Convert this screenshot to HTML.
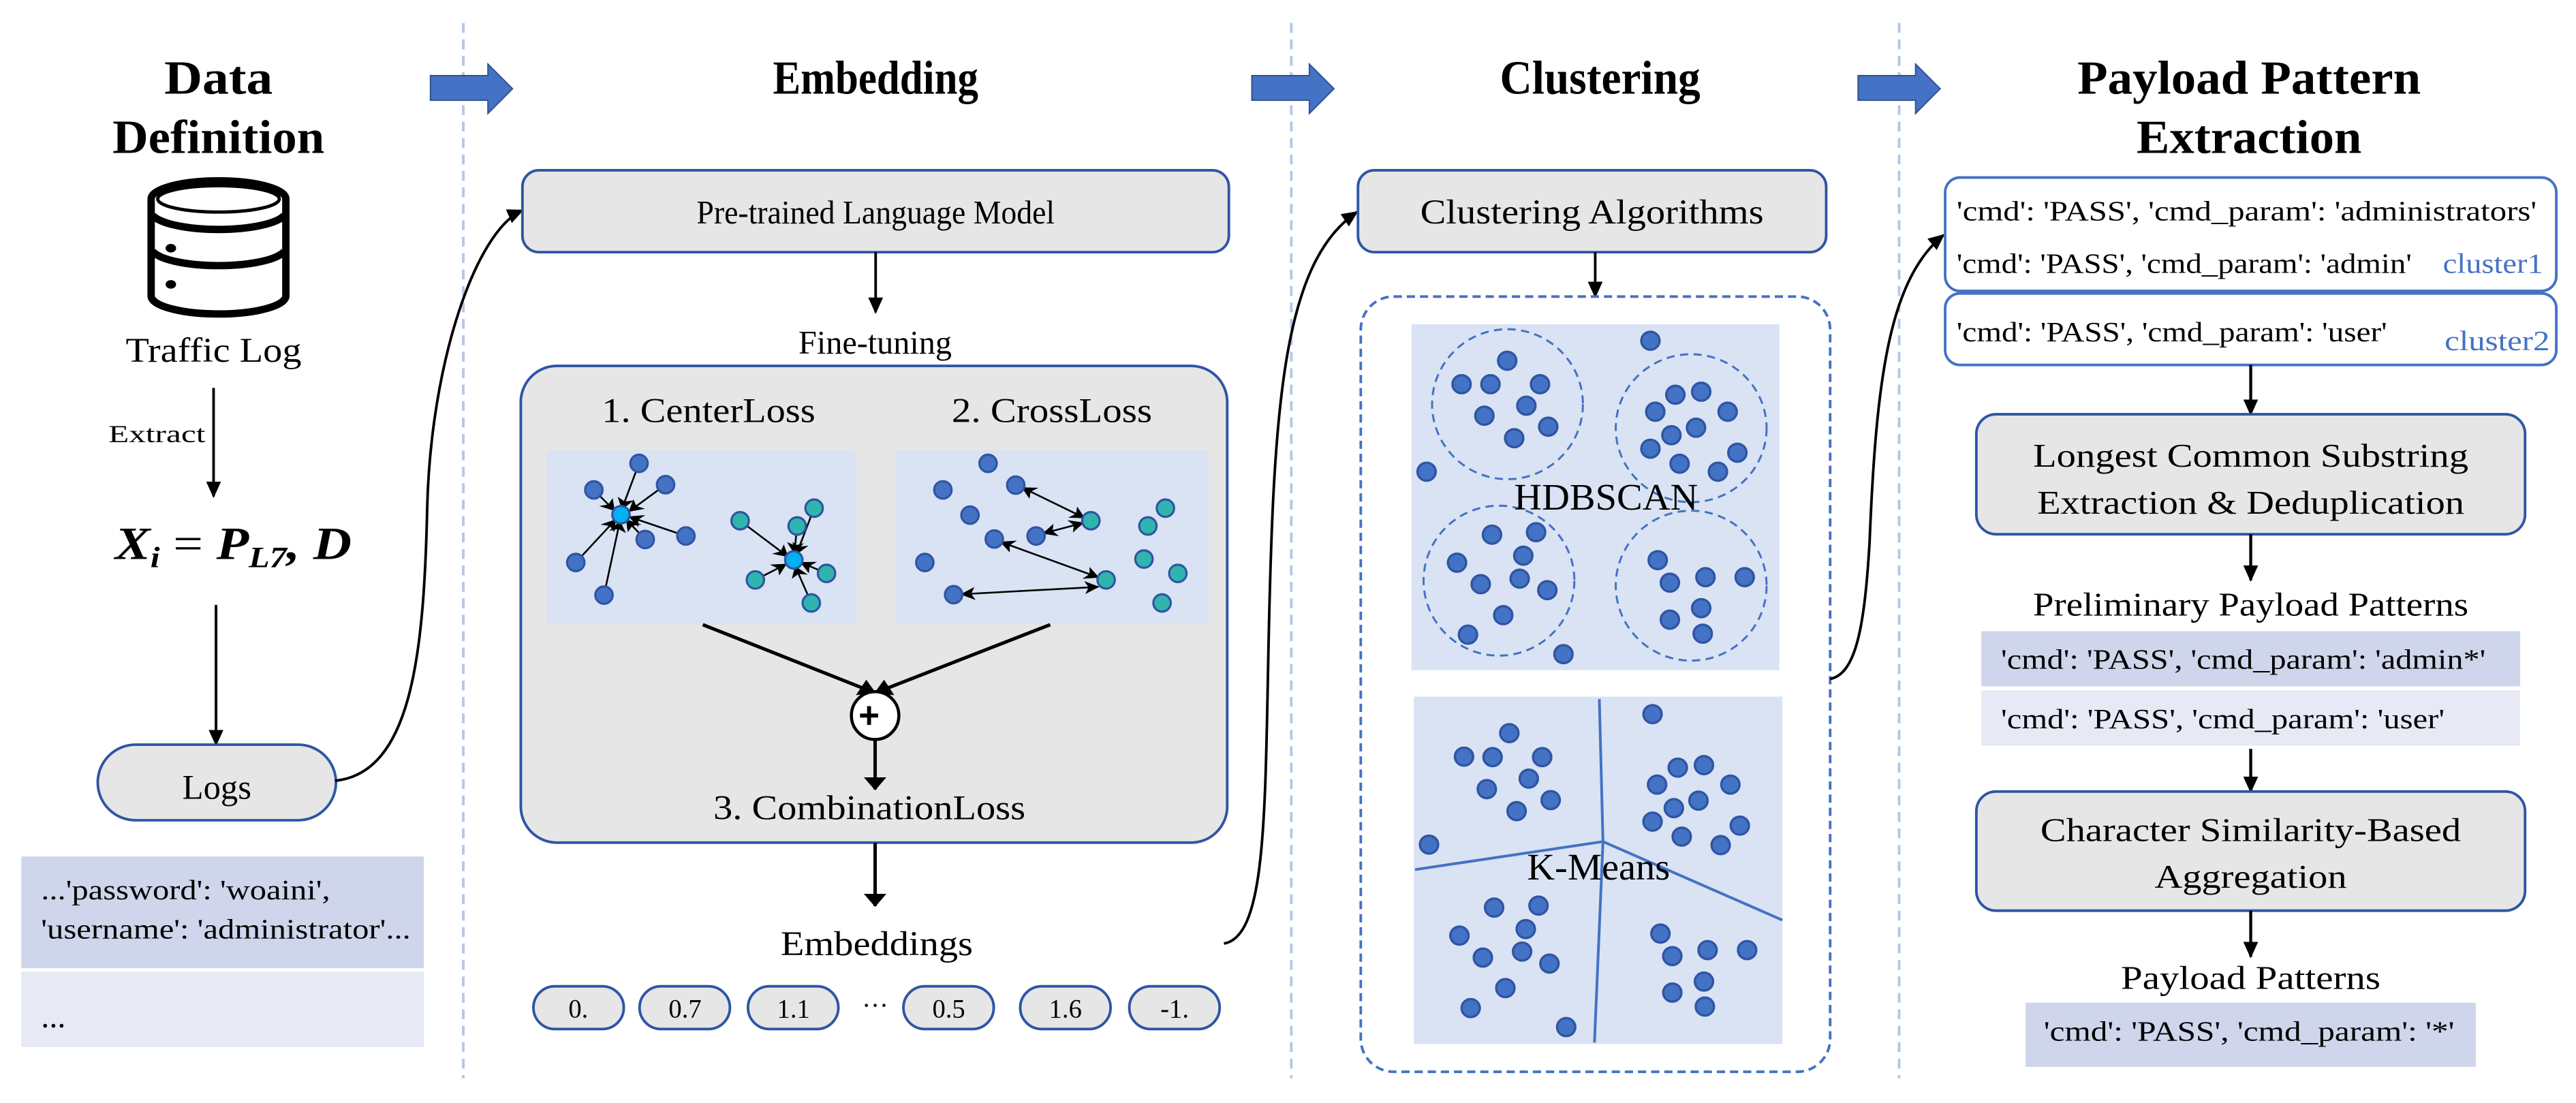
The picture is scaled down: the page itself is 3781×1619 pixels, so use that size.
<!DOCTYPE html>
<html><head><meta charset="utf-8"><style>
html,body{margin:0;padding:0;background:#fff;width:3781px;height:1619px;overflow:hidden}
svg{display:block}
text{font-family:"Liberation Serif",serif;fill:#000}
.ns{vector-effect:non-scaling-stroke}
</style></head><body>
<svg width="3781" height="1619" viewBox="0 0 1568 671" preserveAspectRatio="none" xmlns="http://www.w3.org/2000/svg">
<defs>
<marker id="ah" markerUnits="userSpaceOnUse" markerWidth="10" markerHeight="10" refX="9" refY="5" orient="auto"><path d="M0,0.5 L10,5 L0,9.5 Z" fill="#000"/></marker>
<marker id="ahs" markerUnits="userSpaceOnUse" markerWidth="26" markerHeight="34" refX="24" refY="17" orient="auto"><path d="M0,2 L26,17 L0,32 L7,17 Z" fill="#000"/></marker>
<marker id="ahsr" markerUnits="userSpaceOnUse" markerWidth="26" markerHeight="34" refX="2" refY="17" orient="auto"><path d="M26,2 L0,17 L26,32 L19,17 Z" fill="#000"/></marker>
<marker id="ahb" markerUnits="userSpaceOnUse" markerWidth="30" markerHeight="40" refX="28" refY="20" orient="auto"><path d="M0,0 L30,20 L0,40 Z" fill="#000"/></marker>
</defs>

<!-- dividers -->
<g stroke="#b4c7e7" stroke-width="1.6" stroke-dasharray="6,4">
<line x1="282" y1="14" x2="282" y2="656"/><line x1="786" y1="14" x2="786" y2="656"/><line x1="1156" y1="14" x2="1156" y2="656"/>
</g>
<!-- block arrows -->
<g fill="#4472c4" stroke="#2f528f" stroke-width="0.8">
<polygon points="262,46 297,46 297,39 312,54 297,69 297,61 262,61"/>
<polygon points="762,46 797,46 797,39 812,54 797,69 797,61 762,61"/>
<polygon points="1131,46 1166,46 1166,39 1181,54 1166,69 1166,61 1131,61"/>
</g>

<!-- titles -->
<g font-weight="bold" font-size="29" text-anchor="middle" style="fill:#222">
<text x="133" y="57" textLength="66" lengthAdjust="spacingAndGlyphs">Data</text>
<text x="133" y="93" textLength="129" lengthAdjust="spacingAndGlyphs">Definition</text>
<text x="533" y="57" textLength="125" lengthAdjust="spacingAndGlyphs">Embedding</text>
<text x="974" y="57" textLength="122" lengthAdjust="spacingAndGlyphs">Clustering</text>
<text x="1369" y="57" textLength="209" lengthAdjust="spacingAndGlyphs">Payload Pattern</text>
<text x="1369" y="93" textLength="137" lengthAdjust="spacingAndGlyphs">Extraction</text>
</g>

<!-- LEFT column -->
<g fill="none" stroke="#000" stroke-width="4.5">
<path d="M92,121 A41,11 0 0 1 174,121 L174,180 A41,11 0 0 1 92,180 Z" fill="#fff"/>
<path d="M93,131 A41,11 0 0 0 173,131"/>
<path d="M93,153 A41,11 0 0 0 173,153"/>
</g>
<ellipse cx="133" cy="121" rx="37" ry="8" fill="#fff" stroke="#000" stroke-width="2"/>
<ellipse cx="104" cy="151" rx="3.2" ry="2.6" fill="#000"/>
<ellipse cx="104" cy="173" rx="3.2" ry="2.6" fill="#000"/>
<text x="130" y="220" font-size="21" text-anchor="middle" textLength="107" lengthAdjust="spacingAndGlyphs">Traffic Log</text>
<text x="66" y="269" font-size="15" textLength="59" lengthAdjust="spacingAndGlyphs">Extract</text>
<line x1="130" y1="236" x2="130" y2="302" stroke="#000" stroke-width="1.6" marker-end="url(#ah)"/>
<text x="70" y="340" font-size="28" font-style="italic" font-weight="bold" textLength="144" lengthAdjust="spacingAndGlyphs">X<tspan font-size="18" dy="5">i</tspan><tspan dy="-5" font-style="normal" font-weight="normal"> = </tspan>P<tspan font-size="18" dy="5">L7</tspan><tspan dy="-5">, D</tspan></text>
<line x1="131.5" y1="368" x2="131.5" y2="453" stroke="#000" stroke-width="1.6" marker-end="url(#ah)"/>
<rect x="59.5" y="453" width="145" height="46" rx="23" fill="#e6e6e6" stroke="#2f55a4" stroke-width="1.6"/>
<text x="132" y="486" font-size="21" text-anchor="middle">Logs</text>
<rect x="13" y="521" width="245" height="68" fill="#cfd5ea"/>
<rect x="13" y="591" width="245" height="46" fill="#e7e9f5"/>
<text x="25" y="547" font-size="17" textLength="176" lengthAdjust="spacingAndGlyphs">...'password': 'woaini',</text>
<text x="25" y="571" font-size="17" textLength="225" lengthAdjust="spacingAndGlyphs">'username': 'administrator'...</text>
<text x="25" y="625" font-size="20">...</text>
<path d="M204,475 C250,470 258,400 260,310 C262,220 290,140 318,128" fill="none" stroke="#000" stroke-width="1.6" marker-end="url(#ah)"/>

<!-- EMBEDDING -->
<rect x="318" y="103.6" width="430" height="49.8" rx="10" fill="#e6e6e6" stroke="#2f55a4" stroke-width="1.6"/>
<text x="533" y="136" font-size="20" text-anchor="middle" textLength="218" lengthAdjust="spacingAndGlyphs">Pre-trained Language Model</text>
<line x1="533" y1="153.4" x2="533" y2="190" stroke="#000" stroke-width="1.6" marker-end="url(#ah)"/>
<text x="532.7" y="215" font-size="20" text-anchor="middle">Fine-tuning</text>
<rect x="317" y="222.6" width="430" height="290" rx="22" fill="#e6e6e6" stroke="#2f55a4" stroke-width="1.6"/>
<text x="431.3" y="256.8" font-size="21" text-anchor="middle" textLength="130" lengthAdjust="spacingAndGlyphs">1. CenterLoss</text>
<text x="640.3" y="256.8" font-size="21" text-anchor="middle" textLength="122" lengthAdjust="spacingAndGlyphs">2. CrossLoss</text>
<text x="529.2" y="498.3" font-size="21" text-anchor="middle" textLength="190" lengthAdjust="spacingAndGlyphs">3. CombinationLoss</text>
<g transform="translate(290.3,207.3) scale(0.3438,0.2645)">
<rect x="123" y="252" width="547" height="400" fill="#dae3f3"/>
<rect x="741" y="252" width="554" height="400" fill="#dae3f3"/>
<g stroke="#000" stroke-width="2.6" fill="none">
<line class="ns" x1="287" y1="282" x2="257" y2="386" marker-end="url(#ahs)"/>
<line class="ns" x1="207" y1="343" x2="243" y2="390" marker-end="url(#ahs)"/>
<line class="ns" x1="334" y1="331" x2="270" y2="392" marker-end="url(#ahs)"/>
<line class="ns" x1="370" y1="449" x2="270" y2="405" marker-end="url(#ahs)"/>
<line class="ns" x1="298" y1="457" x2="265" y2="412" marker-end="url(#ahs)"/>
<line class="ns" x1="175" y1="510" x2="245" y2="412" marker-end="url(#ahs)"/>
<line class="ns" x1="225" y1="585" x2="253" y2="416" marker-end="url(#ahs)"/>
<line class="ns" x1="466" y1="414" x2="550" y2="496" marker-end="url(#ahs)"/>
<line class="ns" x1="597" y1="385" x2="566" y2="490" marker-end="url(#ahs)"/>
<line class="ns" x1="567" y1="426" x2="562" y2="488" marker-end="url(#ahs)"/>
<line class="ns" x1="619" y1="535" x2="574" y2="510" marker-end="url(#ahs)"/>
<line class="ns" x1="493" y1="550" x2="547" y2="514" marker-end="url(#ahs)"/>
<line class="ns" x1="592" y1="603" x2="564" y2="520" marker-end="url(#ahs)"/>
<line class="ns" x1="966" y1="338" x2="1075" y2="407" marker-start="url(#ahsr)" marker-end="url(#ahs)"/>
<line class="ns" x1="1003" y1="443" x2="1073" y2="419" marker-start="url(#ahsr)" marker-end="url(#ahs)"/>
<line class="ns" x1="928" y1="463" x2="1100" y2="544" marker-start="url(#ahsr)" marker-end="url(#ahs)"/>
<line class="ns" x1="858" y1="583" x2="1100" y2="566" marker-start="url(#ahsr)" marker-end="url(#ahs)"/>
</g>
<g fill="#4472c4" stroke="#2f55a4" stroke-width="3.2">
<ellipse class="ns" cx="287" cy="282" rx="15.4" ry="20"/><ellipse class="ns" cx="207" cy="343" rx="15.4" ry="20"/><ellipse class="ns" cx="334" cy="331" rx="15.4" ry="20"/><ellipse class="ns" cx="370" cy="449" rx="15.4" ry="20"/><ellipse class="ns" cx="298" cy="457" rx="15.4" ry="20"/><ellipse class="ns" cx="175" cy="510" rx="15.4" ry="20"/><ellipse class="ns" cx="225" cy="585" rx="15.4" ry="20"/>
<ellipse class="ns" cx="905" cy="282" rx="15.4" ry="20"/><ellipse class="ns" cx="825" cy="343" rx="15.4" ry="20"/><ellipse class="ns" cx="954" cy="332" rx="15.4" ry="20"/><ellipse class="ns" cx="873" cy="401" rx="15.4" ry="20"/><ellipse class="ns" cx="916" cy="456" rx="15.4" ry="20"/><ellipse class="ns" cx="990" cy="449" rx="15.4" ry="20"/><ellipse class="ns" cx="793" cy="510" rx="15.4" ry="20"/><ellipse class="ns" cx="844" cy="584" rx="15.4" ry="20"/>
</g>
<g fill="#2fb5ad" stroke="#2f55a4" stroke-width="3.2">
<ellipse class="ns" cx="466" cy="414" rx="15.4" ry="20"/><ellipse class="ns" cx="597" cy="385" rx="15.4" ry="20"/><ellipse class="ns" cx="567" cy="426" rx="15.4" ry="20"/><ellipse class="ns" cx="619" cy="535" rx="15.4" ry="20"/><ellipse class="ns" cx="493" cy="550" rx="15.4" ry="20"/><ellipse class="ns" cx="592" cy="603" rx="15.4" ry="20"/>
<ellipse class="ns" cx="1087" cy="414" rx="15.4" ry="20"/><ellipse class="ns" cx="1219" cy="385" rx="15.4" ry="20"/><ellipse class="ns" cx="1188" cy="426" rx="15.4" ry="20"/><ellipse class="ns" cx="1181" cy="502" rx="15.4" ry="20"/><ellipse class="ns" cx="1241" cy="535" rx="15.4" ry="20"/><ellipse class="ns" cx="1114" cy="550" rx="15.4" ry="20"/><ellipse class="ns" cx="1213" cy="603" rx="15.4" ry="20"/>
</g>
<g fill="#00b0f0" stroke="#2f55a4" stroke-width="3.2">
<ellipse class="ns" cx="255" cy="400" rx="15.4" ry="20"/><ellipse class="ns" cx="561" cy="504" rx="15.4" ry="20"/>
</g>
<g stroke="#000" stroke-width="5" fill="none">
<line class="ns" x1="400" y1="653" x2="705" y2="810" marker-end="url(#ahb)"/>
<line class="ns" x1="1015" y1="653" x2="705" y2="810" marker-end="url(#ahb)"/>
<line class="ns" x1="705" y1="918" x2="705" y2="1032" marker-end="url(#ahb)"/>
<line class="ns" x1="705" y1="1155" x2="705" y2="1300" marker-end="url(#ahb)"/>
</g>
<ellipse class="ns" cx="705" cy="862" rx="42" ry="55" fill="#fff" stroke="#000" stroke-width="4.5"/>
</g>
<g stroke="#000" stroke-width="2.4"><line x1="523.5" y1="435.3" x2="534.5" y2="435.3"/><line x1="529" y1="429.6" x2="529" y2="441"/></g>
<text x="533.7" y="581" font-size="21" text-anchor="middle" textLength="117" lengthAdjust="spacingAndGlyphs">Embeddings</text>
<g fill="#e6e6e6" stroke="#2f55a4" stroke-width="1.6">
<rect x="324.7" y="600" width="55" height="26" rx="13"/><rect x="389.3" y="600" width="55" height="26" rx="13"/><rect x="455.3" y="600" width="55" height="26" rx="13"/>
<rect x="549.9" y="600" width="55" height="26" rx="13"/><rect x="621" y="600" width="55" height="26" rx="13"/><rect x="687.4" y="600" width="55" height="26" rx="13"/>
</g>
<g font-size="16" text-anchor="middle">
<text x="352" y="619">0.</text><text x="417" y="619">0.7</text><text x="483" y="619">1.1</text><text x="532.7" y="617">···</text>
<text x="577.5" y="619">0.5</text><text x="648.5" y="619">1.6</text><text x="715" y="619">-1.</text>
</g>
<path d="M745,574 C770,570 770,500 772,400 C775,250 780,160 826,129" fill="none" stroke="#000" stroke-width="1.6" marker-end="url(#ah)"/>

<!-- CLUSTERING -->
<rect x="826.6" y="103.6" width="285" height="49.8" rx="10" fill="#e6e6e6" stroke="#2f55a4" stroke-width="1.6"/>
<text x="969" y="136" font-size="21" text-anchor="middle" textLength="209" lengthAdjust="spacingAndGlyphs">Clustering Algorithms</text>
<line x1="971" y1="153.4" x2="971" y2="180.4" stroke="#000" stroke-width="1.6" marker-end="url(#ah)"/>
<rect x="828.3" y="180.4" width="285.7" height="471.6" rx="20" fill="#fff" stroke="#4472c4" stroke-width="1.6" stroke-dasharray="5,3"/>
<g transform="translate(829.5,186.6) scale(0.1851,0.3041)">
<rect x="160" y="35" width="1210" height="692" fill="#dae3f3"/>
<rect x="168" y="780" width="1212" height="695" fill="#dae3f3"/>
<g fill="none" stroke="#4472c4" stroke-width="3">
<ellipse class="ns" stroke-dasharray="12,8" cx="476" cy="195" rx="248" ry="150"/><ellipse class="ns" stroke-dasharray="12,8" cx="1080" cy="243" rx="248" ry="148"/>
<ellipse class="ns" stroke-dasharray="12,8" cx="448" cy="548" rx="248" ry="150"/><ellipse class="ns" stroke-dasharray="12,8" cx="1080" cy="558" rx="248" ry="150"/>
</g>
<g fill="none" stroke="#4472c4" stroke-width="4">
<polyline class="ns" points="778,785 790,1070 762,1472"/><polyline class="ns" points="172,1126 790,1070 1380,1227"/>
</g>
<g fill="#4472c4" stroke="#2f55a4" stroke-width="3.4">
<ellipse class="ns" cx="475" cy="108" rx="30" ry="18"/><ellipse class="ns" cx="325" cy="155" rx="30" ry="18"/><ellipse class="ns" cx="420" cy="155" rx="30" ry="18"/><ellipse class="ns" cx="583" cy="155" rx="30" ry="18"/><ellipse class="ns" cx="538" cy="198" rx="30" ry="18"/><ellipse class="ns" cx="400" cy="218" rx="30" ry="18"/><ellipse class="ns" cx="610" cy="240" rx="30" ry="18"/><ellipse class="ns" cx="498" cy="263" rx="30" ry="18"/><ellipse class="ns" cx="946" cy="68" rx="30" ry="18"/><ellipse class="ns" cx="210" cy="330" rx="30" ry="18"/><ellipse class="ns" cx="1028" cy="176" rx="30" ry="18"/><ellipse class="ns" cx="1113" cy="170" rx="30" ry="18"/><ellipse class="ns" cx="962" cy="210" rx="30" ry="18"/><ellipse class="ns" cx="1200" cy="210" rx="30" ry="18"/><ellipse class="ns" cx="1096" cy="242" rx="30" ry="18"/><ellipse class="ns" cx="1015" cy="257" rx="30" ry="18"/><ellipse class="ns" cx="946" cy="284" rx="30" ry="18"/><ellipse class="ns" cx="1232" cy="292" rx="30" ry="18"/><ellipse class="ns" cx="1042" cy="314" rx="30" ry="18"/><ellipse class="ns" cx="1168" cy="330" rx="30" ry="18"/><ellipse class="ns" cx="425" cy="456" rx="30" ry="18"/><ellipse class="ns" cx="570" cy="451" rx="30" ry="18"/><ellipse class="ns" cx="310" cy="512" rx="30" ry="18"/><ellipse class="ns" cx="528" cy="498" rx="30" ry="18"/><ellipse class="ns" cx="388" cy="555" rx="30" ry="18"/><ellipse class="ns" cx="516" cy="544" rx="30" ry="18"/><ellipse class="ns" cx="607" cy="567" rx="30" ry="18"/><ellipse class="ns" cx="462" cy="617" rx="30" ry="18"/><ellipse class="ns" cx="346" cy="656" rx="30" ry="18"/><ellipse class="ns" cx="660" cy="695" rx="30" ry="18"/><ellipse class="ns" cx="970" cy="507" rx="30" ry="18"/><ellipse class="ns" cx="1010" cy="552" rx="30" ry="18"/><ellipse class="ns" cx="1127" cy="541" rx="30" ry="18"/><ellipse class="ns" cx="1256" cy="541" rx="30" ry="18"/><ellipse class="ns" cx="1113" cy="603" rx="30" ry="18"/><ellipse class="ns" cx="1010" cy="626" rx="30" ry="18"/><ellipse class="ns" cx="1118" cy="654" rx="30" ry="18"/>
<ellipse class="ns" cx="482" cy="853" rx="30" ry="18"/><ellipse class="ns" cx="333" cy="900" rx="30" ry="18"/><ellipse class="ns" cx="427" cy="901" rx="30" ry="18"/><ellipse class="ns" cx="590" cy="901" rx="30" ry="18"/><ellipse class="ns" cx="546" cy="944" rx="30" ry="18"/><ellipse class="ns" cx="408" cy="965" rx="30" ry="18"/><ellipse class="ns" cx="618" cy="987" rx="30" ry="18"/><ellipse class="ns" cx="506" cy="1009" rx="30" ry="18"/><ellipse class="ns" cx="953" cy="815" rx="30" ry="18"/><ellipse class="ns" cx="218" cy="1076" rx="30" ry="18"/><ellipse class="ns" cx="1036" cy="922" rx="30" ry="18"/><ellipse class="ns" cx="1122" cy="917" rx="30" ry="18"/><ellipse class="ns" cx="968" cy="956" rx="30" ry="18"/><ellipse class="ns" cx="1209" cy="956" rx="30" ry="18"/><ellipse class="ns" cx="1104" cy="988" rx="30" ry="18"/><ellipse class="ns" cx="1023" cy="1003" rx="30" ry="18"/><ellipse class="ns" cx="953" cy="1030" rx="30" ry="18"/><ellipse class="ns" cx="1240" cy="1038" rx="30" ry="18"/><ellipse class="ns" cx="1049" cy="1060" rx="30" ry="18"/><ellipse class="ns" cx="1177" cy="1077" rx="30" ry="18"/><ellipse class="ns" cx="432" cy="1202" rx="30" ry="18"/><ellipse class="ns" cx="578" cy="1198" rx="30" ry="18"/><ellipse class="ns" cx="318" cy="1258" rx="30" ry="18"/><ellipse class="ns" cx="536" cy="1245" rx="30" ry="18"/><ellipse class="ns" cx="395" cy="1302" rx="30" ry="18"/><ellipse class="ns" cx="524" cy="1290" rx="30" ry="18"/><ellipse class="ns" cx="614" cy="1314" rx="30" ry="18"/><ellipse class="ns" cx="469" cy="1363" rx="30" ry="18"/><ellipse class="ns" cx="355" cy="1403" rx="30" ry="18"/><ellipse class="ns" cx="669" cy="1441" rx="30" ry="18"/><ellipse class="ns" cx="979" cy="1254" rx="30" ry="18"/><ellipse class="ns" cx="1018" cy="1299" rx="30" ry="18"/><ellipse class="ns" cx="1134" cy="1287" rx="30" ry="18"/><ellipse class="ns" cx="1264" cy="1287" rx="30" ry="18"/><ellipse class="ns" cx="1122" cy="1350" rx="30" ry="18"/><ellipse class="ns" cx="1018" cy="1372" rx="30" ry="18"/><ellipse class="ns" cx="1125" cy="1400" rx="30" ry="18"/>
</g>
</g>
<text x="977.6" y="310" font-size="23" text-anchor="middle" textLength="112" lengthAdjust="spacingAndGlyphs">HDBSCAN</text>
<text x="973" y="535" font-size="23" text-anchor="middle" textLength="87" lengthAdjust="spacingAndGlyphs">K-Means</text>
<path d="M1114,413 C1130,410 1135,380 1138,330 C1142,230 1150,170 1183,143" fill="none" stroke="#000" stroke-width="1.6" marker-end="url(#ah)"/>

<!-- PAYLOAD -->
<rect x="1184" y="108" width="372" height="69" rx="9" fill="#fff" stroke="#4472c4" stroke-width="1.6"/>
<rect x="1184" y="178.5" width="372" height="43.5" rx="9" fill="#fff" stroke="#4472c4" stroke-width="1.6"/>
<g font-size="17">
<text x="1191" y="134" textLength="353" lengthAdjust="spacingAndGlyphs">'cmd': 'PASS', 'cmd_param': 'administrators'</text>
<text x="1191" y="166" textLength="277" lengthAdjust="spacingAndGlyphs">'cmd': 'PASS', 'cmd_param': 'admin'</text>
<text x="1191" y="207.6" textLength="262" lengthAdjust="spacingAndGlyphs">'cmd': 'PASS', 'cmd_param': 'user'</text>
<text x="1487" y="166" style="fill:#4472c4" textLength="61" lengthAdjust="spacingAndGlyphs">cluster1</text>
<text x="1488" y="213" style="fill:#4472c4" textLength="64" lengthAdjust="spacingAndGlyphs">cluster2</text>
</g>
<line x1="1370" y1="222" x2="1370" y2="252" stroke="#000" stroke-width="1.8" marker-end="url(#ah)"/>
<rect x="1203" y="252" width="334" height="73" rx="12" fill="#e6e6e6" stroke="#2f55a4" stroke-width="1.6"/>
<g font-size="20" text-anchor="middle">
<text x="1370" y="284" textLength="265" lengthAdjust="spacingAndGlyphs">Longest Common Substring</text>
<text x="1370" y="312.6" textLength="260" lengthAdjust="spacingAndGlyphs">Extraction &amp; Deduplication</text>
</g>
<line x1="1370" y1="325" x2="1370" y2="353" stroke="#000" stroke-width="1.8" marker-end="url(#ah)"/>
<text x="1370" y="374.5" font-size="20" text-anchor="middle" textLength="265" lengthAdjust="spacingAndGlyphs">Preliminary Payload Patterns</text>
<rect x="1206" y="384" width="328" height="33.5" fill="#cfd5ea"/>
<rect x="1206" y="420" width="328" height="33.6" fill="#e7e9f5"/>
<text x="1218" y="406.7" font-size="17" textLength="295" lengthAdjust="spacingAndGlyphs">'cmd': 'PASS', 'cmd_param': 'admin*'</text>
<text x="1218" y="443" font-size="17" textLength="270" lengthAdjust="spacingAndGlyphs">'cmd': 'PASS', 'cmd_param': 'user'</text>
<line x1="1370" y1="455.6" x2="1370" y2="481.5" stroke="#000" stroke-width="1.8" marker-end="url(#ah)"/>
<rect x="1203" y="481.5" width="334" height="72.5" rx="12" fill="#e6e6e6" stroke="#2f55a4" stroke-width="1.6"/>
<g font-size="20" text-anchor="middle">
<text x="1370" y="511.7" textLength="256" lengthAdjust="spacingAndGlyphs">Character Similarity-Based</text>
<text x="1370" y="540" textLength="117" lengthAdjust="spacingAndGlyphs">Aggregation</text>
</g>
<line x1="1370" y1="554" x2="1370" y2="582" stroke="#000" stroke-width="1.8" marker-end="url(#ah)"/>
<text x="1370" y="601.5" font-size="20" text-anchor="middle" textLength="158" lengthAdjust="spacingAndGlyphs">Payload Patterns</text>
<rect x="1233" y="610" width="274" height="39" fill="#cfd5ea"/>
<text x="1244" y="633" font-size="17" textLength="250" lengthAdjust="spacingAndGlyphs">'cmd': 'PASS', 'cmd_param': '*'</text>
</svg>
</body></html>
